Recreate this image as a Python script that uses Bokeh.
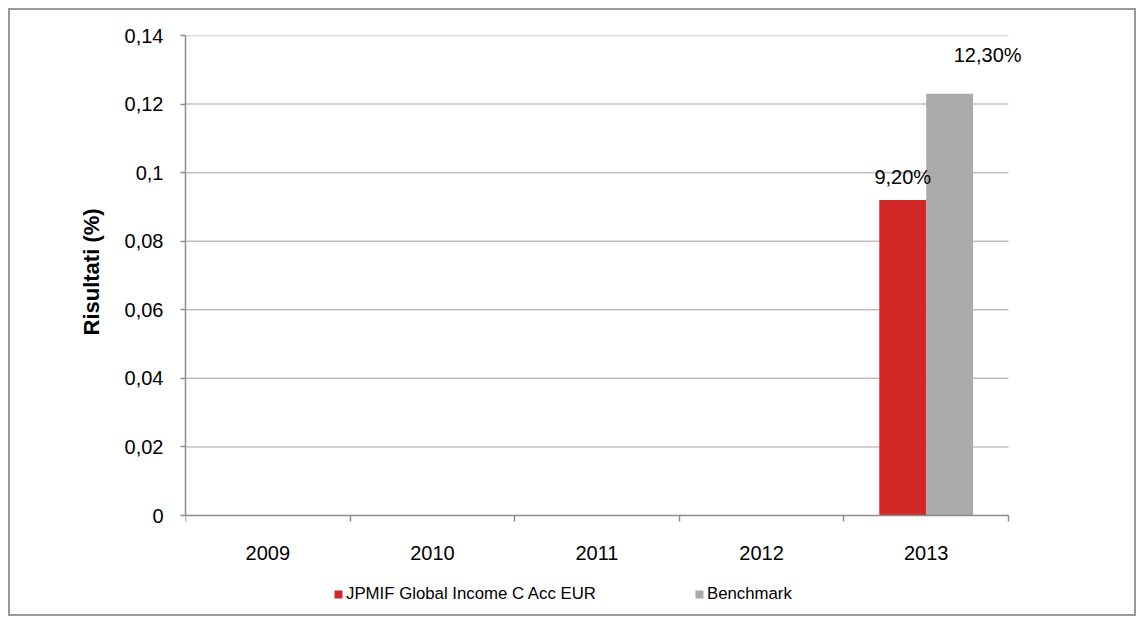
from bokeh.plotting import figure
from bokeh.models import (Range1d, FixedTicker, ColumnDataSource, LabelSet, Legend, LegendItem, Title)
from bokeh.core.properties import value
from bokeh.embed import file_html
from bokeh.resources import INLINE
import math

years = ["2009", "2010", "2011", "2012", "2013"]
fund = [math.nan, math.nan, math.nan, math.nan, 0.092]
bench = [math.nan, math.nan, math.nan, math.nan, 0.123]
fund_name = "JPMIF Global Income C Acc EUR"
bench_name = "Benchmark"
y_label = "Risultati (%)"
y_ticks = [0, 0.02, 0.04, 0.06, 0.08, 0.10, 0.12, 0.14]
y_tick_labels = ["0", "0,02", "0,04", "0,06", "0,08", "0,1", "0,12", "0,14"]

FONT = "Liberation Sans"
RED = "#d22828"
GREY = "#aaaaaa"
BAR_W = 0.285
Y_MAX = 0.14
N = len(years)
# frame extends below zero / right of last category so labels and legend are not clipped
Y_MIN = -Y_MAX * 95 / 480
X_MAX = N + 43 / 164.6

idx = list(range(N))
src = ColumnDataSource(dict(
    xf=[i + 0.5 - BAR_W / 2 for i in idx],
    xb=[i + 0.5 + BAR_W / 2 for i in idx],
    fund=fund, bench=bench,
    fund_lbl=["" if math.isnan(v) else f"{v*100:.2f}%".replace(".", ",") for v in fund],
    bench_lbl=["" if math.isnan(v) else f"{v*100:.2f}%".replace(".", ",") for v in bench],
))
grid_src = ColumnDataSource(dict(y=y_ticks[1:], x0=[0] * (len(y_ticks) - 1), x1=[N] * (len(y_ticks) - 1)))

p = figure(width=1128, height=608, output_backend="svg", toolbar_location=None,
           x_range=Range1d(0, X_MAX), y_range=Range1d(Y_MIN, Y_MAX),
           min_border_left=175, min_border_right=87, min_border_top=25, min_border_bottom=8)
p.styles = {"border": "2px solid #999999", "margin-left": "8px", "margin-top": "8px"}
p.outline_line_color = None
p.background_fill_color = "white"
p.border_fill_color = "white"
p.xgrid.grid_line_color = None
p.ygrid.grid_line_color = None

# horizontal gridlines across the category area only
p.segment(x0="x0", x1="x1", y0="y", y1="y", source=grid_src, line_color="#c0c0c0", line_width=1.5)

rf = p.vbar(x="xf", top="fund", width=BAR_W, source=src, fill_color=RED, line_color=None)
rb = p.vbar(x="xb", top="bench", width=BAR_W, source=src, fill_color=GREY, line_color=None)

# y axis
ya = p.yaxis[0]
ya.bounds = (0, Y_MAX)
ya.ticker = FixedTicker(ticks=y_ticks)
ya.major_label_overrides = {t: l for t, l in zip(y_ticks, y_tick_labels)}
ya.major_label_text_font = FONT
ya.major_label_text_font_size = "20px"
ya.major_label_text_color = "black"
ya.major_tick_out = 5
ya.major_tick_in = 0
ya.minor_tick_line_color = None
ya.major_tick_line_color = "#8c8c8c"
ya.major_tick_line_width = 1.5
ya.axis_line_color = "#8c8c8c"
ya.axis_line_width = 1.5
ya.major_label_standoff = 17

p.add_layout(Title(text=y_label, align="left", offset=275, standoff=36,
                   text_font=FONT, text_font_style="bold", text_font_size="22px",
                   text_color="black"), "left")

# x axis, drawn at y = 0
xa = p.xaxis[0]
xa.fixed_location = 0
xa.bounds = (0, N)
xa.ticker = FixedTicker(ticks=[i + 0.5 for i in idx], minor_ticks=list(range(N + 1)))
xa.major_label_overrides = {i + 0.5: y for i, y in zip(idx, years)}
xa.major_label_text_font = FONT
xa.major_label_text_font_size = "20px"
xa.major_label_text_color = "black"
xa.major_tick_line_color = None
xa.major_tick_out = 0
xa.major_tick_in = 0
xa.minor_tick_out = 6
xa.minor_tick_in = 0
xa.minor_tick_line_color = "#8c8c8c"
xa.minor_tick_line_width = 1.5
xa.axis_line_color = "#8c8c8c"
xa.axis_line_width = 1.5
xa.major_label_standoff = 24

# data labels
p.add_layout(LabelSet(x="xf", y="fund", text="fund_lbl", source=src, x_offset=0, y_offset=23,
                      text_align="center", text_baseline="middle", text_font=value(FONT),
                      text_font_size="20px", text_color="black"))
p.add_layout(LabelSet(x="xb", y="bench", text="bench_lbl", source=src, x_offset=38, y_offset=39,
                      text_align="center", text_baseline="middle", text_font=value(FONT),
                      text_font_size="20px", text_color="black"))

legend = Legend(items=[LegendItem(label=fund_name, renderers=[rf]),
                       LegendItem(label=bench_name, renderers=[rb])],
                orientation="horizontal", location=(148, 6),
                glyph_width=10, glyph_height=10, label_standoff=3, spacing=98,
                padding=0, margin=0, border_line_color=None, background_fill_alpha=0,
                label_text_font=FONT, label_text_font_size="16.8px", label_text_color="black")
p.add_layout(legend, "center")

open("out.html", "w").write(file_html(p, INLINE))
